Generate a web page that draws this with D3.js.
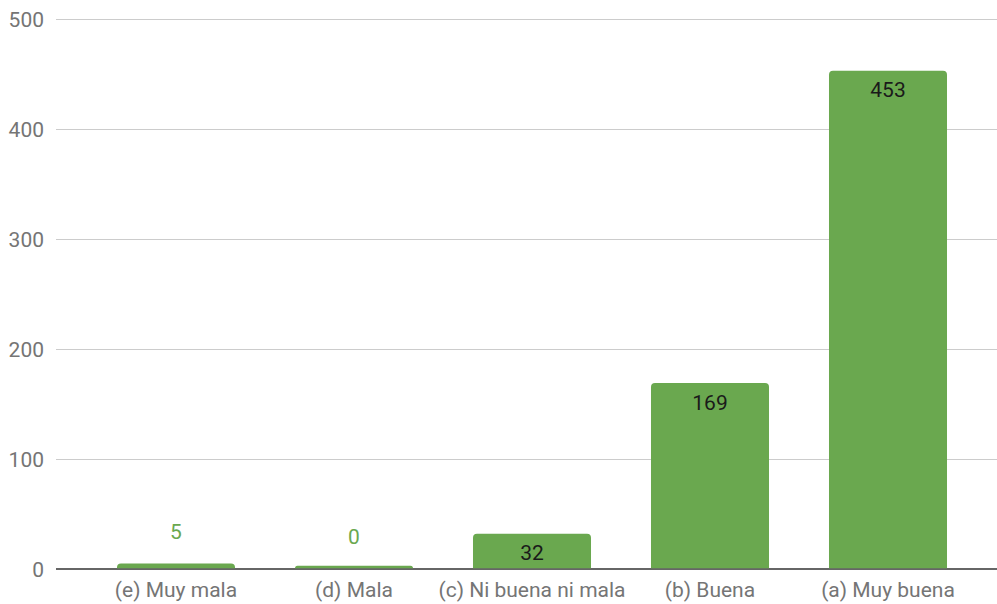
<!DOCTYPE html>
<html><head><meta charset="utf-8">
<script src="https://cdn.jsdelivr.net/npm/d3@7"></script>
<style>body{margin:0;background:#fff;}svg{display:block;font-family:Roboto,sans-serif;}</style>
</head><body><svg id="c" width="997" height="604"></svg>
<script>
const categories = ["(e) Muy mala", "(d) Mala", "(c) Ni buena ni mala", "(b) Buena", "(a) Muy buena"];
const values = [5, 0, 32, 169, 453];
const yTicks = [0, 100, 200, 300, 400, 500];

(function () {
const svg = d3.select("#c");
const plotLeft = 56, plotRight = 997, plotTop = 19, plotBottom = 569;
const fs = 21;
const x = d3.scaleBand().domain(categories).range([87, 977]).paddingInner(0.337).paddingOuter(0.1685);
const y = d3.scaleLinear().domain([0, 500]).range([plotBottom, plotTop]);
const green = "#6aa84f";

svg.append("g").selectAll("line").data(yTicks.filter(d => d !== 0)).join("line")
  .attr("x1", plotLeft).attr("x2", plotRight).attr("y1", d => y(d)).attr("y2", d => y(d))
  .attr("stroke", "#cccccc").attr("stroke-width", 1).attr("shape-rendering", "crispEdges");

svg.append("g").selectAll("text").data(yTicks).join("text")
  .attr("x", 44).attr("y", d => y(d) + 7.5).attr("text-anchor", "end")
  .attr("font-size", fs).attr("fill", "#757575").text(d => d);

svg.append("line").attr("x1", plotLeft).attr("x2", plotRight).attr("y1", plotBottom).attr("y2", plotBottom)
  .attr("stroke", "#333333").attr("stroke-width", 1.5);

const r = 4;
function barPath(x0, w, yTop, yBase) {
  const h = yBase - yTop;
  const rr = Math.min(r, h, w / 2);
  return `M${x0},${yBase}V${yTop + rr}Q${x0},${yTop} ${x0 + rr},${yTop}H${x0 + w - rr}Q${x0 + w},${yTop} ${x0 + w},${yTop + rr}V${yBase}Z`;
}
const data = categories.map((c, i) => ({ c, v: values[i] }));
svg.append("g").selectAll("path").data(data).join("path")
  .attr("d", d => {
    let yt = y(d.v);
    if (plotBottom - 0.75 - yt < 2.5) yt = plotBottom - 0.75 - 2.5;
    return barPath(x(d.c), x.bandwidth(), yt, plotBottom - 0.75);
  })
  .attr("fill", green);

svg.append("g").selectAll("text").data(data).join("text")
  .attr("x", d => x(d.c) + x.bandwidth() / 2)
  .attr("y", d => {
    const h = plotBottom - y(d.v);
    return h > 30 ? y(d.v) + 26.5 : y(d.v) - 25;
  })
  .attr("text-anchor", "middle").attr("font-size", fs)
  .attr("fill", d => (plotBottom - y(d.v) > 30 ? "#1a1a1a" : green))
  .text(d => d.v);

svg.append("g").selectAll("text").data(categories).join("text")
  .attr("x", d => x(d) + x.bandwidth() / 2).attr("y", 597)
  .attr("text-anchor", "middle").attr("font-size", fs).attr("fill", "#757575").text(d => d);
})();
</script></body></html>
